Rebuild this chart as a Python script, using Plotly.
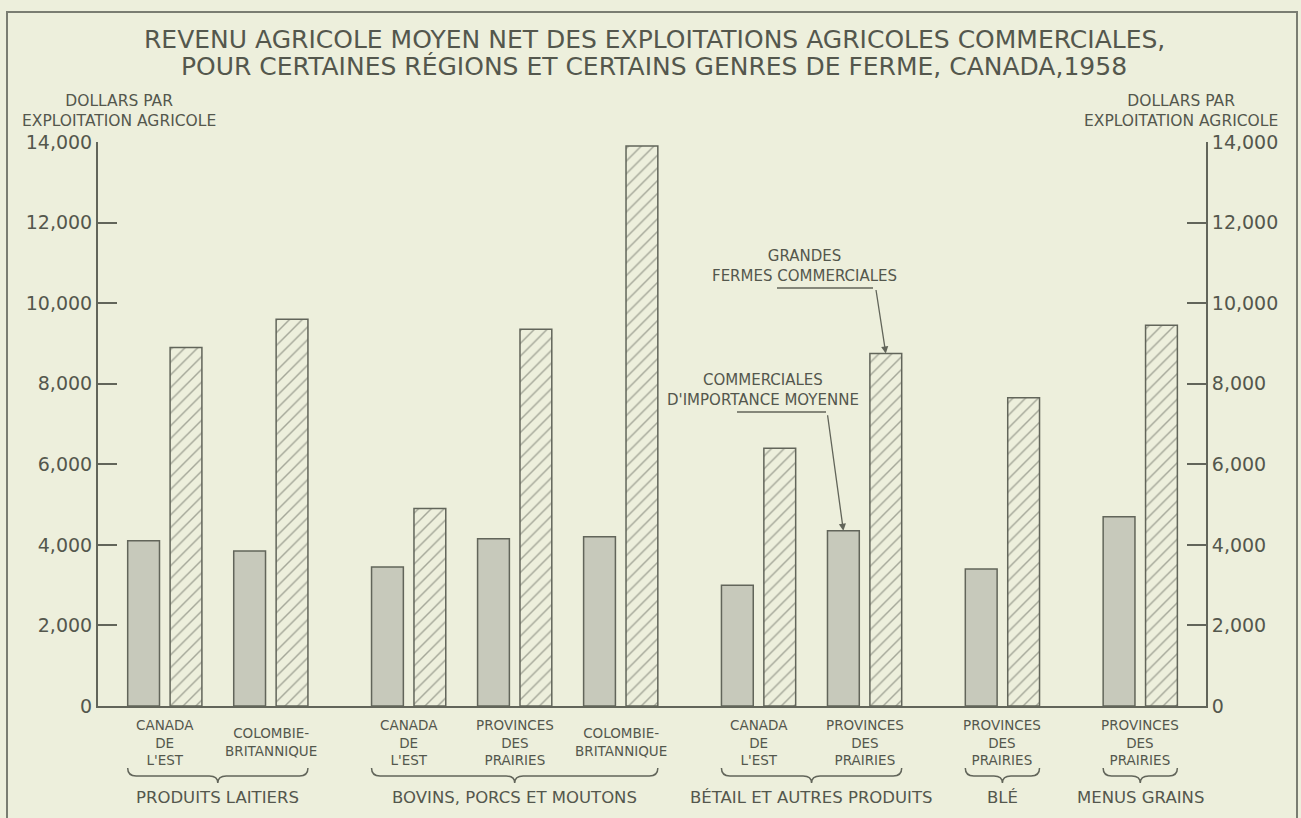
import plotly.graph_objects as go

# ---------------- data ----------------
group_names = ["PRODUITS LAITIERS", "BOVINS, PORCS ET MOUTONS",
               "BÉTAIL ET AUTRES PRODUITS", "BLÉ", "MENUS GRAINS"]
group_sizes = [2, 3, 2, 1, 1]
regions = ["CANADA<br>DE<br>L'EST", "COLOMBIE-<br>BRITANNIQUE",
           "CANADA<br>DE<br>L'EST", "PROVINCES<br>DES<br>PRAIRIES", "COLOMBIE-<br>BRITANNIQUE",
           "CANADA<br>DE<br>L'EST", "PROVINCES<br>DES<br>PRAIRIES",
           "PROVINCES<br>DES<br>PRAIRIES",
           "PROVINCES<br>DES<br>PRAIRIES"]
# Commerciales d'importance moyenne (grey bars)
moyennes = [4100, 3850, 3450, 4150, 4200, 3000, 4350, 3400, 4700]
# Grandes fermes commerciales (hatched bars)
grandes = [8900, 9600, 4900, 9350, 13900, 6400, 8750, 7650, 9450]
y_ticks = [0, 2000, 4000, 6000, 8000, 10000, 12000, 14000]

title_lines = ["REVENU AGRICOLE MOYEN NET DES EXPLOITATIONS AGRICOLES COMMERCIALES,",
               "POUR CERTAINES RÉGIONS ET CERTAINS GENRES DE FERME, CANADA,1958"]
axis_title = "DOLLARS PAR<br>EXPLOITATION AGRICOLE"
label_grandes = "GRANDES<br>FERMES COMMERCIALES"
label_moyennes = "COMMERCIALES<br>D'IMPORTANCE MOYENNE"

# ---------------- styling / layout constants ----------------
W, H = 1301, 818
L, R, T, B = 98, 1206, 142, 706
XMIN, XMAX = -0.63, 9.82
GAP = 0.3
BG = "#edefdc"
INK = "#54574d"
LINE = "#62655a"
GREY = "#c7c9bb"
FONT = "DejaVu Sans"

def px2paper(px):
    return (px - L) / (R - L)

def py2paper(py):
    return (B - py) / (B - T)

# category positions (slot index + gap between groups)
positions = []
group_bounds = []
idx = 0
for g, n in enumerate(group_sizes):
    first = idx + g * GAP
    for k in range(n):
        positions.append(idx + g * GAP)
        idx += 1
    group_bounds.append((first, positions[-1]))

fig = go.Figure()
fig.add_trace(go.Bar(
    x=positions, y=moyennes, width=0.3, offset=-0.35,
    marker=dict(color=GREY, line=dict(color=LINE, width=1.5)),
    name="Commerciales d'importance moyenne", hoverinfo="y"))
fig.add_trace(go.Bar(
    x=positions, y=grandes, width=0.3, offset=0.05,
    marker=dict(color=BG, line=dict(color=LINE, width=1.5),
                pattern=dict(shape="/", fgcolor="#5c5f55", bgcolor=BG, size=9, solidity=0.16)),
    name="Grandes fermes commerciales", hoverinfo="y"))
# invisible trace on the right axis so it is drawn
fig.add_trace(go.Scatter(x=positions, y=grandes, yaxis="y2", mode="markers",
                         marker=dict(opacity=0), hoverinfo="skip", showlegend=False))

axis_common = dict(range=[0, 14000], tickvals=y_ticks, tickformat=",",
                   ticks="inside", ticklen=19, tickwidth=1.5, tickcolor=LINE,
                   showline=True, linecolor=LINE, linewidth=2,
                   showgrid=False, zeroline=False,
                   tickfont=dict(family=FONT, size=19, color=INK), fixedrange=True)

fig.update_layout(
    width=W, height=H, autosize=False,
    margin=dict(l=L, r=W - R, t=T, b=H - B, pad=0),
    paper_bgcolor=BG, plot_bgcolor=BG,
    barmode="overlay", showlegend=False,
    font=dict(family=FONT, color=INK),
    xaxis=dict(range=[XMIN, XMAX], showline=True, linecolor=LINE, linewidth=2,
               showticklabels=False, ticks="", showgrid=False, zeroline=False,
               fixedrange=True),
    yaxis=dict(side="left", **axis_common),
    yaxis2=dict(side="right", overlaying="y", **axis_common),
)

ann = []
# title
for line, py in zip(title_lines, [40, 67]):
    ann.append(dict(text=line, x=px2paper(654), y=py2paper(py), xref="paper", yref="paper",
                    xanchor="center", yanchor="middle", showarrow=False,
                    font=dict(size=25, color=INK, family=FONT)))
# axis titles
for cx in [119, 1181]:
    ann.append(dict(text=axis_title, x=px2paper(cx), y=py2paper(111), xref="paper", yref="paper",
                    xanchor="center", yanchor="middle", showarrow=False,
                    font=dict(size=15.5, color=INK, family=FONT)))
# category labels
for p, lab in zip(positions, regions):
    ann.append(dict(text=lab, x=p, y=py2paper(742), xref="x", yref="paper",
                    xanchor="center", yanchor="middle", showarrow=False,
                    font=dict(size=13.5, color=INK, family=FONT)))
# group labels and braces
shapes = []
ytop, ymid, ytip = py2paper(768), py2paper(776), py2paper(783)
d = 0.08
for (a, b), name in zip(group_bounds, group_names):
    xm = (a + b) / 2
    ann.append(dict(text=name, x=xm, y=py2paper(797), xref="x", yref="paper",
                    xanchor="center", yanchor="middle", showarrow=False,
                    font=dict(size=16.5, color=INK, family=FONT)))
    xl, xr = a - 0.35, b + 0.35
    path = (f"M {xl},{ytop} Q {xl},{ymid} {xl + d},{ymid} L {xm - d},{ymid} "
            f"Q {xm},{ymid} {xm},{ytip} Q {xm},{ymid} {xm + d},{ymid} "
            f"L {xr - d},{ymid} Q {xr},{ymid} {xr},{ytop}")
    shapes.append(dict(type="path", path=path, xref="x", yref="paper",
                       line=dict(color=LINE, width=1.5)))

# callouts
ann.append(dict(text=label_grandes, x=px2paper(804), y=py2paper(266), xref="paper", yref="paper",
                xanchor="center", yanchor="middle", showarrow=False,
                font=dict(size=15, color=INK, family=FONT)))
ann.append(dict(text=label_moyennes, x=px2paper(763), y=py2paper(390), xref="paper", yref="paper",
                xanchor="center", yanchor="middle", showarrow=False,
                font=dict(size=15, color=INK, family=FONT)))
shapes.append(dict(type="line", xref="paper", yref="paper",
                   x0=px2paper(777), x1=px2paper(873), y0=py2paper(288), y1=py2paper(288),
                   line=dict(color=LINE, width=1.3)))
shapes.append(dict(type="line", xref="paper", yref="paper",
                   x0=px2paper(737), x1=px2paper(826), y0=py2paper(412), y1=py2paper(412),
                   line=dict(color=LINE, width=1.3)))
ann.append(dict(text="", x=positions[6] + 0.2, y=grandes[6], xref="x", yref="y",
                ax=-10, ay=-65, showarrow=True, arrowhead=2, arrowsize=1.1,
                arrowwidth=1.3, arrowcolor=LINE))
ann.append(dict(text="", x=positions[6] - 0.2, y=moyennes[6], xref="x", yref="y",
                ax=-16, ay=-117, showarrow=True, arrowhead=2, arrowsize=1.1,
                arrowwidth=1.3, arrowcolor=LINE))

# outer frame
shapes.append(dict(type="rect", xref="paper", yref="paper",
                   x0=px2paper(7), x1=px2paper(1297), y0=py2paper(830), y1=py2paper(12),
                   line=dict(color="#7a7d72", width=2), fillcolor="rgba(0,0,0,0)", layer="below"))

fig.update_layout(annotations=ann, shapes=shapes)
fig.write_html("out.html", config={"displayModeBar": False},
               post_script="document.body.style.margin='0';document.body.style.overflow='hidden';"
                           "document.body.style.background='" + BG + "';")
